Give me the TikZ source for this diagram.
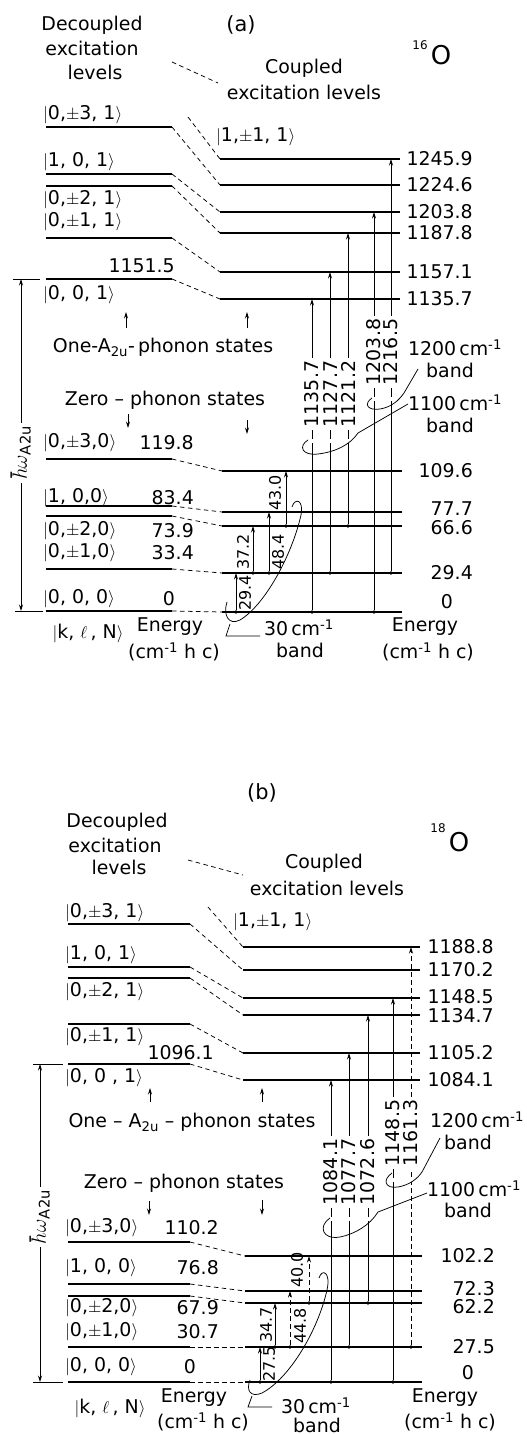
\documentclass[tikz,border=0pt]{standalone}
\usepackage{fontspec}
\setmainfont{DejaVu Sans}
\usetikzlibrary{arrows.meta}
\newcommand{\kt}[1]{$|$#1$\rangle$}
\newcommand{\lev}[4]{\coordinate (#1l) at (#2,#4); \coordinate (#1r) at (#3,#4); \draw[lvl] (#1l) -- (#1r);}
\newcommand{\vlab}[4]{\node[vl] (#1) at (#2,#3) {#4}; \path (#1.west) ++(-3,9) coordinate (#1g) ++(6,4) coordinate (#1h); \fill[white] (#1g) rectangle (#1h);}
\begin{document}
\begin{tikzpicture}[x=1bp,y=-1bp,
 lvl/.style={line width=1.4bp},
 dsh/.style={line width=0.75bp,dash pattern=on 4.5bp off 3.5bp},
 tr/.style={line width=0.85bp,-{Stealth[length=6.5bp,width=4bp]}},
 trd/.style={tr,dash pattern=on 4.5bp off 3.5bp},
 txt/.style={font=\fontsize{19}{21}\selectfont,inner sep=0pt},
 vl/.style={txt,rotate=90,fill=white,inner sep=3bp},
 vs/.style={txt,font=\fontsize{16}{18}\selectfont,rotate=90},
 dt/.style={circle,fill,inner sep=0pt,minimum size=3.8bp},
 lk/.style={txt,anchor=west},
 lv/.style={txt,anchor=east},
 thn/.style={line width=0.75bp}]
\useasboundingbox (0,0) rectangle (527,1435);
\fill[white] (0,0) rectangle (527,1435);

%%%%%%%%%%%%%%%% PANEL (a) %%%%%%%%%%%%%%%%
\node[txt,font=\fontsize{21}{23}\selectfont] (ta) at (241,25) {(a)};
\node[txt] (decA1) at (92,25) {Decoupled};
\node[txt] (decA2) at (92,48) {excitation};
\node[txt] (decA3) at (95,72) {levels};
\node[txt] (cpA1) at (304,68) {Coupled};
\node[txt] (cpA2) at (304,92) {excitation levels};
\coordinate (ddA1) at (172,62); \coordinate (ddA2) at (218,83);
\draw[dsh] (ddA1) -- (ddA2);
\node[txt,font=\fontsize{12}{13}\selectfont] (isoA1) at (420,45) {16};
\node[txt,font=\fontsize{26}{27}\selectfont] (isoA2) at (441,55) {O};

% upper decoupled
\lev{A1}{46}{172}{127}
\lev{A2}{46}{172}{174}
\lev{A3}{46}{172}{186}
\lev{A4}{46}{172}{238}
\lev{A5}{46}{172}{279}
\node[lk] (kA1) at (43,115) {\kt{0,$\pm$3, 1}};
\node[lk] (kA2) at (43,162) {\kt{1, 0, 1}};
\node[lk] (kA3) at (43,200) {\kt{0,$\pm$2, 1}};
\node[lk] (kA4) at (43,222) {\kt{0,$\pm$1, 1}};
\node[lk] (kA5) at (43,295) {\kt{0, 0, 1}};
\node[lv] (eA5) at (175,266) {1151.5};
\node[lk] (kB1) at (216,137) {\kt{1,$\pm$1, 1}};

% upper coupled
\lev{B1}{220}{400}{159}
\lev{B2}{220}{400}{185}
\lev{B3}{220}{400}{212}
\lev{B4}{220}{400}{233}
\lev{B5}{220}{400}{272}
\lev{B6}{220}{400}{299}
\node[lv] (eB1) at (473,159) {1245.9};
\node[lv] (eB2) at (473,185) {1224.6};
\node[lv] (eB3) at (473,212) {1203.8};
\node[lv] (eB4) at (473,233) {1187.8};
\node[lv] (eB5) at (473,272) {1157.1};
\node[lv] (eB6) at (473,299) {1135.7};

\coordinate (fA) at (188,117);
\draw[dsh] (fA) -- (B1l);
\draw[dsh] (A1r) -- (B2l);
\draw[dsh] (A2r) -- (B3l);
\draw[dsh] (A3r) -- (B4l);
\draw[dsh] (A4r) -- (B5l);
\draw[dsh] (A5r) -- (B6l);

% lower decoupled
\lev{C1}{46}{172}{459}
\lev{C2}{46}{172}{506}
\lev{C3}{46}{172}{516}
\lev{C4}{46}{172}{569}
\lev{C5}{46}{172}{611}
\node[lk] (kC1) at (43,443) {\kt{0,$\pm$3,0}};
\node[lk] (kC2) at (43,498) {\kt{1, 0,0}};
\node[lk] (kC3) at (43,531) {\kt{0,$\pm$2,0}};
\node[lk] (kC4) at (43,553) {\kt{0,$\pm$1,0}};
\node[lk] (kC5) at (43,599) {\kt{0, 0, 0}};
\node[lv] (eC1) at (194,443) {119.8};
\node[lv] (eC2) at (194,498) {83.4};
\node[lv] (eC3) at (194,531) {73.9};
\node[lv] (eC4) at (194,553) {33.4};
\node[txt] (eC5) at (169,599) {0};

% lower coupled
\lev{D1}{222}{402}{471}
\lev{D2}{222}{402}{512}
\lev{D3}{222}{402}{526}
\lev{D4}{222}{402}{573}
\lev{D5}{222}{402}{612}
\node[lv] (eD1) at (473,471) {109.6};
\node[lv] (eD2) at (473,509) {77.7};
\node[lv] (eD3) at (473,528) {66.6};
\node[lv] (eD4) at (473,573) {29.4};
\node[txt] (eD5) at (447,602) {0};

\draw[dsh] (C1r) -- (D1l);
\draw[dsh] (C2r) -- (D2l);
\draw[dsh] (C3r) -- (D3l);
\draw[dsh] (C4r) -- (D4l);
\draw[dsh] (C5r) -- (D5l);

% hbar omega
\coordinate (hwA1) at (21,279); \coordinate (hwA2) at (21,611);
\draw[thn] (13,279) -- (40,279);
\draw[thn] (15,611) -- (43,611);
\draw[tr,{Stealth[length=6.5bp,width=4bp]}-{Stealth[length=6.5bp,width=4bp]}] (hwA1) -- (hwA2);
\node[vl,font=\fontsize{21}{23}\selectfont] (hwA) at (21,453) {$\hbar\omega$\textsubscript{A2u}};

% phonon labels
\node[txt] (onA) at (163,347) {One-A\textsubscript{2u}-\,phonon states};
\node[txt] (zeA) at (165,400) {Zero -- phonon states};
\draw[tr] (126,328) -- (126,312);
\draw[tr] (247,328) -- (247,312);
\draw[tr] (128,414) -- (128,428);
\draw[tr] (247,420) -- (247,434);

% big transitions
\node[dt] (sA1) at (312,612) {};
\node[dt] (sA2) at (330,573) {};
\node[dt] (sA3) at (348,526) {};
\node[dt] (sA4) at (374,612) {};
\node[dt] (sA5) at (391,573) {};
\draw[tr] (sA1) -- (sA1 |- B6l);
\draw[tr] (sA2) -- (sA2 |- B5l);
\draw[tr] (sA3) -- (sA3 |- B4l);
\draw[tr] (sA4) -- (sA4 |- B3l);
\draw[tr] (sA5) -- (sA5 |- B1l);
\vlab{vA1}{312}{394}{1135.7}
\vlab{vA2}{330}{394}{1127.7}
\vlab{vA3}{348}{394}{1121.2}
\vlab{vA4}{374}{352}{1203.8}
\vlab{vA5}{391}{352}{1216.5}

% 30 band transitions
\node[dt] (pA1) at (236,612) {};
\node[dt] (pA2) at (253,573) {};
\node[dt] (pA3) at (269,573) {};
\node[dt] (pA4) at (286,526) {};
\draw[tr] (pA1) -- (pA1 |- D4l);
\draw[tr] (pA2) -- (pA2 |- D3l);
\draw[tr] (pA3) -- (pA3 |- D2l);
\draw[tr] (pA4) -- (pA4 |- D1l);
\node[vs] (qA1) at (245,593) {29.4};
\node[vs] (qA2) at (243,552) {37.2};
\node[vs] (qA3) at (278,552) {48.4};
\node[vs] (qA4) at (275,493) {43.0};

% bands
\draw[thn] (227,602) .. controls (223,614) and (228,626) .. (240,620) .. controls (265,605) and (292,555) .. (301,515) .. controls (304,500) and (295,497) .. (292,507);
\coordinate (bA1) at (230,624); \coordinate (bA2) at (226,636); \coordinate (bA3) at (260,636);
\draw[thn] (bA1) -- (bA2) -- (bA3);
\node[txt] (b30A) at (299,628) {30\,cm\textsuperscript{-1}};
\node[txt] (b30Ab) at (300,650) {band};

\draw[thn] (308,440) .. controls (298,446) and (302,456) .. (318,454) .. controls (335,452) and (350,445) .. (358,433) -- (408,404);
\node[txt] (b11A) at (455,403) {1100\,cm\textsuperscript{-1}};
\node[txt] (b11Ab) at (450,425) {band};
\draw[thn] (372,398) .. controls (363,404) and (368,411) .. (380,409) .. controls (392,407) and (399,400) .. (404,393) -- (418,369);
\node[txt] (b12A) at (455,348) {1200\,cm\textsuperscript{-1}};
\node[txt] (b12Ab) at (450,370) {band};

% bottom labels
\node[txt] (klnA) at (88,633) {$|$k, $\ell$\,, N$\rangle$};
\node[txt] (enA1) at (170,627) {Energy};
\node[txt] (enA2) at (174,652) {(cm\textsuperscript{-1} h c)};
\node[txt] (enA3) at (425,627) {Energy};
\node[txt] (enA4) at (428,652) {(cm\textsuperscript{-1} h c)};

%%%%%%%%%%%%%%%% PANEL (b) %%%%%%%%%%%%%%%%
\node[txt,font=\fontsize{21}{23}\selectfont] (tb) at (262,793) {(b)};
\node[txt] (decB1) at (117,822) {Decoupled};
\node[txt] (decB2) at (115,845) {excitation};
\node[txt] (decB3) at (119,867) {levels};
\node[txt] (cpB1) at (324,863) {Coupled};
\node[txt] (cpB2) at (327,888) {excitation levels};
\coordinate (ddB1) at (188,860); \coordinate (ddB2) at (243,875);
\draw[dsh] (ddB1) -- (ddB2);
\node[txt,font=\fontsize{12}{13}\selectfont] (isoB1) at (438,828) {18};
\node[txt,font=\fontsize{26}{27}\selectfont] (isoB2) at (459,842) {O};

\lev{E1}{68}{190}{924}
\lev{E2}{68}{190}{967}
\lev{E3}{68}{190}{978}
\lev{E4}{68}{190}{1024}
\lev{E5}{68}{190}{1064}
\node[lk] (kE1) at (65,913) {\kt{0,$\pm$3, 1}};
\node[lk] (kE2) at (65,955) {\kt{1, 0, 1}};
\node[lk] (kE3) at (65,992) {\kt{0,$\pm$2, 1}};
\node[lk] (kE4) at (65,1037) {\kt{0,$\pm$1, 1}};
\node[lk] (kE5) at (65,1078) {\kt{0, 0 , 1}};
\node[lv] (eE5) at (214,1053) {1096.1};
\node[lk] (kF1) at (233,922) {\kt{1,$\pm$1, 1}};

\lev{F1}{243}{420}{947}
\lev{F2}{243}{420}{970}
\lev{F3}{243}{420}{998}
\lev{F4}{243}{420}{1015}
\lev{F5}{243}{420}{1053}
\lev{F6}{243}{420}{1080}
\node[lv] (eF1) at (494,947) {1188.8};
\node[lv] (eF2) at (494,970) {1170.2};
\node[lv] (eF3) at (494,997) {1148.5};
\node[lv] (eF4) at (494,1016) {1134.7};
\node[lv] (eF5) at (494,1053) {1105.2};
\node[lv] (eF6) at (494,1080) {1084.1};

\coordinate (fB) at (208,907);
\draw[dsh] (fB) -- (F1l);
\draw[dsh] (E1r) -- (F2l);
\draw[dsh] (E2r) -- (F3l);
\draw[dsh] (E3r) -- (F4l);
\draw[dsh] (E4r) -- (F5l);
\draw[dsh] (E5r) -- (F6l);

\lev{G1}{68}{190}{1242}
\lev{G2}{68}{190}{1284}
\lev{G3}{68}{190}{1296}
\lev{G4}{68}{190}{1347}
\lev{G5}{68}{190}{1382}
\node[lk] (kG1) at (65,1228) {\kt{0,$\pm$3,0}};
\node[lk] (kG2) at (65,1268) {\kt{1, 0, 0}};
\node[lk] (kG3) at (65,1308) {\kt{0,$\pm$2,0}};
\node[lk] (kG4) at (65,1332) {\kt{0,$\pm$1,0}};
\node[lk] (kG5) at (65,1367) {\kt{0, 0, 0}};
\node[lv] (eG1) at (219,1228) {110.2};
\node[lv] (eG2) at (219,1268) {76.8};
\node[lv] (eG3) at (219,1308) {67.9};
\node[lv] (eG4) at (219,1332) {30.7};
\node[txt] (eG5) at (190,1367) {0};

\lev{H1}{245}{422}{1256}
\lev{H2}{245}{422}{1291}
\lev{H3}{245}{422}{1303}
\lev{H4}{245}{422}{1347}
\lev{H5}{245}{422}{1382}
\node[lv] (eH1) at (495,1256) {102.2};
\node[lv] (eH2) at (495,1289) {72.3};
\node[lv] (eH3) at (495,1307) {62.2};
\node[lv] (eH4) at (495,1347) {27.5};
\node[txt] (eH5) at (468,1373) {0};

\draw[dsh] (G1r) -- (H1l);
\draw[dsh] (G2r) -- (H2l);
\draw[dsh] (G3r) -- (H3l);
\draw[dsh] (G4r) -- (H4l);
\draw[dsh] (G5r) -- (H5l);

\coordinate (hwB1) at (40,1064); \coordinate (hwB2) at (40,1382);
\draw[thn] (33,1064) -- (63,1064);
\draw[thn] (33,1382) -- (63,1382);
\draw[tr,{Stealth[length=6.5bp,width=4bp]}-{Stealth[length=6.5bp,width=4bp]}] (hwB1) -- (hwB2);
\node[vl,font=\fontsize{21}{23}\selectfont] (hwB) at (40,1217) {$\hbar\omega$\textsubscript{A2u}};

\node[txt] (onB) at (192,1122) {One -- A\textsubscript{2u} -- phonon states};
\node[txt] (zeB) at (184,1183) {Zero -- phonon states};
\draw[tr] (150,1102) -- (150,1088);
\draw[tr] (262,1102) -- (262,1088);
\draw[tr] (149,1201) -- (149,1215);
\draw[tr] (262,1200) -- (262,1215);

\node[dt] (sB1) at (331,1382) {};
\node[dt] (sB2) at (349,1347) {};
\node[dt] (sB3) at (368,1303) {};
\node[dt] (sB4) at (393,1382) {};
\node[dt] (sB5) at (411,1347) {};
\draw[tr] (sB1) -- (sB1 |- F6l);
\draw[tr] (sB2) -- (sB2 |- F5l);
\draw[tr] (sB3) -- (sB3 |- F4l);
\draw[tr] (sB4) -- (sB4 |- F3l);
\draw[trd] (sB5) -- (sB5 |- F1l);
\vlab{vB1}{331}{1172}{1084.1}
\vlab{vB2}{349}{1172}{1077.7}
\vlab{vB3}{368}{1172}{1072.6}
\vlab{vB4}{393}{1133}{1148.5}
\vlab{vB5}{411}{1133}{1161.3}

\node[dt] (pB1) at (260,1382) {};
\node[dt] (pB2) at (275,1347) {};
\node[dt] (pB3) at (290,1347) {};
\node[dt] (pB4) at (309,1303) {};
\draw[tr] (pB1) -- (pB1 |- H4l);
\draw[tr] (pB2) -- (pB2 |- H3l);
\draw[trd] (pB3) -- (pB3 |- H2l);
\draw[trd] (pB4) -- (pB4 |- H1l);
\node[vs] (qB1) at (269,1364) {27.5};
\node[vs] (qB2) at (266,1325) {34.7};
\node[vs] (qB3) at (300,1326) {44.8};
\node[vs] (qB4) at (297,1270) {40.0};

\draw[thn] (250,1380) .. controls (246,1390) and (250,1398) .. (262,1393) .. controls (290,1378) and (318,1330) .. (327,1290) .. controls (331,1272) and (322,1268) .. (319,1278);
\coordinate (bB1) at (252,1396); \coordinate (bB2) at (248,1407); \coordinate (bB3) at (272,1407);
\draw[thn] (bB1) -- (bB2) -- (bB3);
\node[txt] (b30B) at (316,1406) {30\,cm\textsuperscript{-1}};
\node[txt] (b30Bb) at (317,1425) {band};

\draw[thn] (330,1218) .. controls (318,1226) and (322,1240) .. (340,1237) .. controls (355,1234) and (370,1225) .. (378,1212) -- (427,1193);
\node[txt] (b11B) at (474,1189) {1100\,cm\textsuperscript{-1}};
\node[txt] (b11Bb) at (468,1210) {band};
\draw[thn] (392,1173) .. controls (382,1180) and (385,1189) .. (398,1187) .. controls (410,1185) and (418,1178) .. (422,1172) -- (440,1138);
\node[txt] (b12B) at (477,1120) {1200\,cm\textsuperscript{-1}};
\node[txt] (b12Bb) at (468,1142) {band};

\node[txt] (klnB) at (110,1408) {$|$k, $\ell$\,, N$\rangle$};
\node[txt] (enB1) at (194,1398) {Energy};
\node[txt] (enB2) at (203,1422) {(cm\textsuperscript{-1} h c)};
\node[txt] (enB3) at (445,1398) {Energy};
\node[txt] (enB4) at (450,1422) {(cm\textsuperscript{-1} h c)};
\end{tikzpicture}
\end{document}
